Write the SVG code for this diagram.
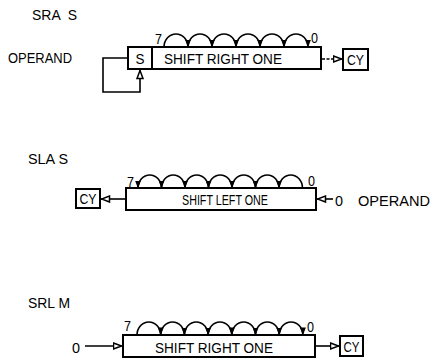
<svg xmlns="http://www.w3.org/2000/svg" width="434" height="361" viewBox="0 0 434 361">
<defs>
<marker id="hd" viewBox="0 0 8 6" refX="7.5" refY="3" markerWidth="8" markerHeight="6" markerUnits="userSpaceOnUse" orient="auto">
<path d="M0,0 L8,3 L0,6 Z" fill="#000"/>
</marker>
<marker id="open" viewBox="0 0 10 8" refX="9.5" refY="4" markerWidth="10" markerHeight="8" markerUnits="userSpaceOnUse" orient="auto">
<path d="M1,1 L9,4 L1,7 Z" fill="#fff" stroke="#000" stroke-width="1.5"/>
</marker>
</defs>
<style>
text{font-family:"Liberation Sans",Arial,sans-serif;fill:#000;}
.t{font-size:15px;}
.lbl{font-size:15px;}
.box{fill:#fff;stroke:#000;stroke-width:2;}
.arc{fill:none;stroke:#000;stroke-width:1.6;marker-end:url(#hd);}
.con{fill:none;stroke:#000;stroke-width:1.6;marker-end:url(#open);}
</style>
<rect width="434" height="361" fill="#fff"/>

<!-- Section 1: SRA S -->
<text class="lbl" x="32" y="20" textLength="45" lengthAdjust="spacingAndGlyphs" xml:space="preserve">SRA  S</text>
<text class="lbl" x="8" y="63" textLength="64" lengthAdjust="spacingAndGlyphs">OPERAND</text>
<g id="sra-reg">
<rect class="box" x="128" y="47" width="193" height="22"/>
<line x1="152" y1="47" x2="152" y2="69" stroke="#000" stroke-width="2"/>
<text class="t" x="140" y="64" text-anchor="middle" textLength="9" lengthAdjust="spacingAndGlyphs">S</text>
<text class="t" x="164" y="64" textLength="118" lengthAdjust="spacingAndGlyphs">SHIFT RIGHT ONE</text>
<text class="t" x="155" y="44" textLength="7" lengthAdjust="spacingAndGlyphs">7</text>
<text class="t" x="311" y="43" textLength="7" lengthAdjust="spacingAndGlyphs">0</text>
</g>
<g id="sra-cy">
<rect class="box" x="343" y="49" width="25" height="21"/>
<text class="t" x="355.5" y="65" text-anchor="middle" textLength="17" lengthAdjust="spacingAndGlyphs">CY</text>
</g>
<g id="sra-connectors">
<path class="arc" d="M164,47 A12,13 0 0 1 188,47"/>
<path class="arc" d="M188,47 A12,13 0 0 1 212,47"/>
<path class="arc" d="M212,47 A12,13 0 0 1 236,47"/>
<path class="arc" d="M236,47 A12,13 0 0 1 260,47"/>
<path class="arc" d="M260,47 A12,13 0 0 1 284,47"/>
<path class="arc" d="M284,47 A12,13 0 0 1 308,47"/>
<path class="con" d="M128,58 H103 V92 H140 V70"/>
<path class="con" d="M322,59 H342" stroke-dasharray="3,1.5"/>
</g>

<!-- Section 2: SLA S -->
<text class="lbl" x="28" y="164" textLength="40" lengthAdjust="spacingAndGlyphs">SLA S</text>
<g id="sla-reg">
<rect class="box" x="126" y="188" width="190" height="22"/>
<text class="t" x="182" y="205" textLength="86" lengthAdjust="spacingAndGlyphs">SHIFT LEFT ONE</text>
<text class="t" x="127" y="187" textLength="7" lengthAdjust="spacingAndGlyphs">7</text>
<text class="t" x="308" y="186" textLength="7" lengthAdjust="spacingAndGlyphs">0</text>
</g>
<g id="sla-cy">
<rect class="box" x="76" y="189" width="24" height="19"/>
<text class="t" x="88" y="204" text-anchor="middle" textLength="17" lengthAdjust="spacingAndGlyphs">CY</text>
</g>
<text class="t" x="335" y="206" textLength="8" lengthAdjust="spacingAndGlyphs">0</text>
<text class="lbl" x="358" y="206" textLength="72" lengthAdjust="spacingAndGlyphs">OPERAND</text>
<g id="sla-connectors">
<path class="arc" d="M161.5,188 A11.75,13 0 0 0 138,188"/>
<path class="arc" d="M185,188 A11.75,13 0 0 0 161.5,188"/>
<path class="arc" d="M208.5,188 A11.75,13 0 0 0 185,188"/>
<path class="arc" d="M232,188 A11.75,13 0 0 0 208.5,188"/>
<path class="arc" d="M255.5,188 A11.75,13 0 0 0 232,188"/>
<path class="arc" d="M279,188 A11.75,13 0 0 0 255.5,188"/>
<path class="arc" d="M302.5,188 A11.75,13 0 0 0 279,188"/>
<path class="con" d="M125,199 H101"/>
<path class="con" d="M333,199 H317"/>
</g>

<!-- Section 3: SRL M -->
<text class="lbl" x="28" y="308" textLength="42" lengthAdjust="spacingAndGlyphs">SRL M</text>
<g id="srl-reg">
<rect class="box" x="123" y="335" width="192" height="22"/>
<text class="t" x="155" y="353" textLength="118" lengthAdjust="spacingAndGlyphs">SHIFT RIGHT ONE</text>
<text class="t" x="124" y="331" textLength="7" lengthAdjust="spacingAndGlyphs">7</text>
<text class="t" x="307" y="332" textLength="7" lengthAdjust="spacingAndGlyphs">0</text>
</g>
<g id="srl-cy">
<rect class="box" x="340" y="336" width="23" height="20"/>
<text class="t" x="351.5" y="352" text-anchor="middle" textLength="16" lengthAdjust="spacingAndGlyphs">CY</text>
</g>
<text class="t" x="72" y="353" textLength="8" lengthAdjust="spacingAndGlyphs">0</text>
<g id="srl-connectors">
<path class="arc" d="M137,335 A11.85,13 0 0 1 160.7,335"/>
<path class="arc" d="M160.7,335 A11.85,13 0 0 1 184.4,335"/>
<path class="arc" d="M184.4,335 A11.85,13 0 0 1 208.1,335"/>
<path class="arc" d="M208.1,335 A11.85,13 0 0 1 231.8,335"/>
<path class="arc" d="M231.8,335 A11.85,13 0 0 1 255.5,335"/>
<path class="arc" d="M255.5,335 A11.85,13 0 0 1 279.2,335"/>
<path class="arc" d="M279.2,335 A11.85,13 0 0 1 302.9,335"/>
<path class="con" d="M85,346 H122"/>
<path class="con" d="M316,346 H339"/>
</g>
</svg>
